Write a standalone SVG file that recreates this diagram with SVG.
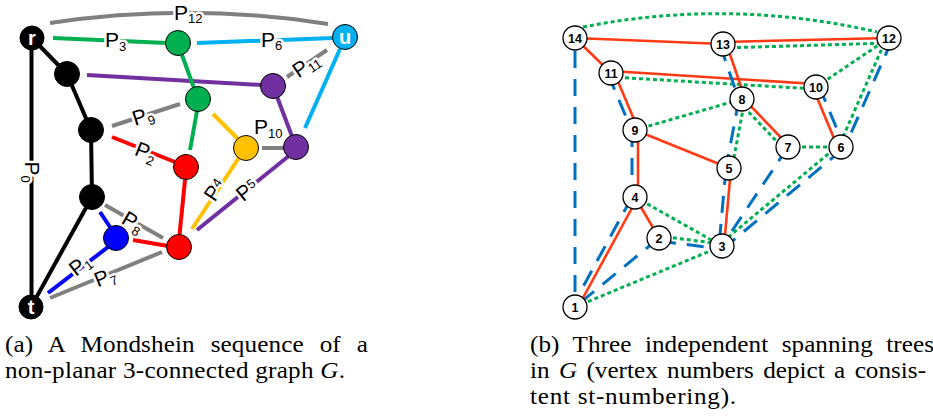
<svg xmlns="http://www.w3.org/2000/svg" width="933" height="419" viewBox="0 0 933 419">
<style>
.e{fill:none;stroke-width:4;stroke-linecap:butt}
.k{stroke:#000}.g{stroke:#00b050}.c{stroke:#00b0f0}.p{stroke:#7030a0}.r{stroke:#ff0000}.y{stroke:#ffc000}.b{stroke:#0000ff}.s{stroke:#808080}
.n{stroke:#000;stroke-width:1}
.lb{font-family:"Liberation Sans",Arial,sans-serif;font-size:21px;fill:#000;stroke:#fff;stroke-width:5;paint-order:stroke;stroke-linejoin:round}
.sb{font-size:13px}
.nt{font-family:"Liberation Sans",Arial,sans-serif;font-size:20px;font-weight:bold;fill:#fff;text-anchor:middle}
.rr{fill:none;stroke:#ff3a14;stroke-width:2.6}
.gg{fill:none;stroke:#00b050;stroke-width:3;stroke-dasharray:4 3}
.bb{fill:none;stroke:#0070c0;stroke-width:3;stroke-dasharray:17 11}
.wn{fill:#fff;stroke:#000;stroke-width:1.3}
.wt{font-family:"Liberation Sans",Arial,sans-serif;font-size:12.5px;font-weight:bold;fill:#000;text-anchor:middle}
.cap{font-family:"Liberation Serif","Times New Roman",serif;font-size:22.5px;fill:#000}
</style>
<g id="connectors-a">
<path class="e s" d="M50,23 Q189,2 328,24"/>
<line class="e k" x1="31.5" y1="38" x2="31.5" y2="307"/>
<line class="e k" x1="32" y1="38" x2="67" y2="74"/>
<line class="e k" x1="67" y1="74" x2="91" y2="130"/>
<line class="e k" x1="91" y1="130" x2="92" y2="197"/>
<line class="e k" x1="92" y1="197" x2="31" y2="307"/>
<line class="e g" x1="53" y1="38" x2="167" y2="43"/>
<line class="e c" x1="197" y1="43" x2="333" y2="38"/>
<line class="e p" x1="87" y1="75" x2="262" y2="85"/>
<line class="e g" x1="182" y1="55" x2="194" y2="88"/>
<line class="e s" x1="287" y1="77" x2="327" y2="50"/>
<line class="e c" x1="340" y1="49" x2="305" y2="128"/>
<line class="e s" x1="112" y1="126" x2="180" y2="104"/>
<line class="e r" x1="112" y1="137" x2="180" y2="164"/>
<line class="e g" x1="197" y1="111" x2="190" y2="150"/>
<line class="e y" x1="213" y1="114" x2="240" y2="141"/>
<line class="e s" x1="262" y1="148" x2="286" y2="148"/>
<line class="e p" x1="273" y1="86" x2="296" y2="147"/>
<line class="e y" x1="240" y1="156" x2="192" y2="229"/>
<line class="e p" x1="290" y1="155" x2="197" y2="230"/>
<line class="e r" x1="185" y1="180" x2="179" y2="240"/>
<line class="e s" x1="105" y1="205" x2="163" y2="238"/>
<line class="e b" x1="100" y1="212" x2="110" y2="227"/>
<line class="e r" x1="133" y1="240" x2="168" y2="246"/>
<line class="e b" x1="48" y1="293" x2="108" y2="247"/>
<line class="e s" x1="50" y1="298" x2="162" y2="252"/>
</g>
<g id="labels-a">
<text class="lb" x="174" y="20">P<tspan class="sb" dy="3">12</tspan></text>
<text class="lb" x="105" y="47">P<tspan class="sb" dy="4">3</tspan></text>
<text class="lb" x="261" y="47">P<tspan class="sb" dy="3">6</tspan></text>
<text class="lb" x="254" y="134">P<tspan class="sb" dy="4">10</tspan></text>
<text class="lb" transform="translate(306,65) rotate(-34)" x="0" y="7" text-anchor="middle">P<tspan class="sb" dy="3">11</tspan></text>
<text class="lb" transform="translate(143,116) rotate(-18)" x="0" y="7" text-anchor="middle">P<tspan class="sb" dy="4">9</tspan></text>
<text class="lb" transform="translate(146,152) rotate(22)" x="0" y="7" text-anchor="middle">P<tspan class="sb" dy="4">2</tspan></text>
<text class="lb" transform="translate(215,190) rotate(-56)" x="0" y="7" text-anchor="middle">P<tspan class="sb" dy="-5">4</tspan></text>
<text class="lb" transform="translate(247,190) rotate(-39)" x="0" y="7" text-anchor="middle">P<tspan class="sb" dy="-5">5</tspan></text>
<text class="lb" transform="translate(133,222) rotate(30)" x="0" y="7" text-anchor="middle">P<tspan class="sb" dy="4">8</tspan></text>
<text class="lb" transform="translate(80,265) rotate(-38)" x="0" y="7" text-anchor="middle">P<tspan class="sb" dy="3">1</tspan></text>
<text class="lb" transform="translate(105,277) rotate(-22)" x="0" y="7" text-anchor="middle">P<tspan class="sb" dy="4">7</tspan></text>
<text class="lb" transform="translate(31.5,172) rotate(90)" x="0" y="7" text-anchor="middle">P<tspan class="sb" dy="4">0</tspan></text>
</g>
<g id="node-r"><circle class="n" cx="32" cy="38" r="12" fill="#000"/><text class="nt" x="32" y="45">r</text></g>
<g id="node-g1"><circle class="n" cx="178" cy="43" r="12.5" fill="#00b050"/></g>
<g id="node-u"><circle class="n" cx="345" cy="37" r="12.5" fill="#00b0f0"/><text class="nt" x="345" y="44">u</text></g>
<g id="node-k2"><circle class="n" cx="67" cy="74" r="12.5" fill="#000"/></g>
<g id="node-p1"><circle class="n" cx="273" cy="86" r="12.5" fill="#7030a0"/></g>
<g id="node-g2"><circle class="n" cx="198" cy="99" r="12.5" fill="#00b050"/></g>
<g id="node-k3"><circle class="n" cx="91" cy="130" r="12.5" fill="#000"/></g>
<g id="node-y"><circle class="n" cx="246" cy="148" r="12.5" fill="#ffc000"/></g>
<g id="node-p2"><circle class="n" cx="296" cy="147" r="12.5" fill="#7030a0"/></g>
<g id="node-r1"><circle class="n" cx="186" cy="167" r="12.5" fill="#ff0000"/></g>
<g id="node-k4"><circle class="n" cx="92" cy="197" r="12.5" fill="#000"/></g>
<g id="node-b"><circle class="n" cx="116" cy="238" r="12.5" fill="#0000ff"/></g>
<g id="node-r2"><circle class="n" cx="179" cy="247" r="12.5" fill="#ff0000"/></g>
<g id="node-t"><circle class="n" cx="31" cy="307" r="12" fill="#000"/><text class="nt" x="31" y="314">t</text></g>

<g id="connectors-b">
<line class="bb" x1="575" y1="51" x2="575" y2="295"/>
<path class="gg" d="M583,27 Q730,-2 877,32"/>
<line class="rr" x1="575" y1="38" x2="723" y2="44"/>
<line class="rr" x1="723" y1="42" x2="889" y2="38"/>
<line class="gg" x1="723" y1="48" x2="889" y2="43"/>
<line class="rr" x1="575" y1="38" x2="611" y2="73"/>
<line class="rr" x1="611" y1="71" x2="816" y2="84"/>
<line class="gg" x1="611" y1="77" x2="816" y2="89"/>
<line class="rr" x1="614" y1="72" x2="638" y2="129"/>
<line class="bb" x1="608" y1="74" x2="632" y2="131"/>
<line class="rr" x1="726" y1="43" x2="745" y2="98"/>
<line class="bb" x1="720" y1="45" x2="739" y2="100"/>
<line class="gg" x1="816" y1="87" x2="889" y2="38"/>
<line class="gg" x1="635" y1="130" x2="742" y2="99"/>
<line class="gg" x1="745" y1="99" x2="732" y2="168"/>
<line class="bb" x1="739" y1="99" x2="726" y2="168"/>
<line class="rr" x1="743" y1="98" x2="789" y2="146"/>
<line class="gg" x1="739" y1="102" x2="785" y2="150"/>
<line class="rr" x1="813" y1="88" x2="838" y2="148"/>
<line class="bb" x1="819" y1="86" x2="844" y2="146"/>
<line class="gg" x1="887" y1="37" x2="839" y2="146"/>
<line class="bb" x1="892" y1="40" x2="844" y2="149"/>
<line class="gg" x1="788" y1="147" x2="841" y2="147"/>
<line class="rr" x1="635" y1="130" x2="729" y2="168"/>
<line class="rr" x1="638" y1="130" x2="638" y2="197"/>
<line class="bb" x1="632" y1="130" x2="632" y2="197"/>
<line class="bb" x1="788" y1="147" x2="722" y2="246"/>
<line class="gg" x1="839" y1="145" x2="720" y2="244"/>
<line class="bb" x1="843" y1="149" x2="724" y2="248"/>
<line class="rr" x1="731" y1="168" x2="724" y2="246"/>
<line class="bb" x1="726" y1="168" x2="719" y2="246"/>
<line class="gg" x1="635" y1="197" x2="722" y2="246"/>
<line class="rr" x1="635" y1="197" x2="659" y2="238"/>
<line class="gg" x1="659" y1="236" x2="722" y2="244"/>
<line class="bb" x1="659" y1="241" x2="722" y2="249"/>
<line class="bb" x1="659" y1="238" x2="575" y2="307"/>
<line class="gg" x1="575" y1="307" x2="722" y2="246"/>
<line class="rr" x1="638" y1="197" x2="578" y2="307"/>
<line class="bb" x1="632" y1="197" x2="572" y2="307"/>
</g>
<g id="v14"><circle class="wn" cx="575" cy="38" r="12"/><text class="wt" x="575" y="42.5">14</text></g>
<g id="v13"><circle class="wn" cx="723" cy="44" r="12"/><text class="wt" x="723" y="48.5">13</text></g>
<g id="v12"><circle class="wn" cx="889" cy="38" r="12"/><text class="wt" x="889" y="42.5">12</text></g>
<g id="v11"><circle class="wn" cx="611" cy="73" r="12"/><text class="wt" x="611" y="77.5">11</text></g>
<g id="v10"><circle class="wn" cx="816" cy="87" r="12"/><text class="wt" x="816" y="91.5">10</text></g>
<g id="v8"><circle class="wn" cx="742" cy="99" r="12"/><text class="wt" x="742" y="103.5">8</text></g>
<g id="v9"><circle class="wn" cx="635" cy="130" r="12"/><text class="wt" x="635" y="134.5">9</text></g>
<g id="v7"><circle class="wn" cx="788" cy="147" r="12"/><text class="wt" x="788" y="151.5">7</text></g>
<g id="v6"><circle class="wn" cx="841" cy="147" r="12"/><text class="wt" x="841" y="151.5">6</text></g>
<g id="v5"><circle class="wn" cx="729" cy="168" r="12"/><text class="wt" x="729" y="172.5">5</text></g>
<g id="v4"><circle class="wn" cx="635" cy="197" r="12"/><text class="wt" x="635" y="201.5">4</text></g>
<g id="v2"><circle class="wn" cx="659" cy="238" r="12"/><text class="wt" x="659" y="242.5">2</text></g>
<g id="v3"><circle class="wn" cx="722" cy="246" r="12"/><text class="wt" x="722" y="250.5">3</text></g>
<g id="v1"><circle class="wn" cx="575" cy="307" r="12"/><text class="wt" x="575" y="311.5">1</text></g>

<g id="captions">
<text class="cap" transform="translate(5,352) scale(1.12,1)" x="0" y="0" word-spacing="8.4" textLength="324" lengthAdjust="spacing">(a) A Mondshein sequence of a</text>
<text class="cap" transform="translate(5,378) scale(1.12,1)" x="0" y="0" textLength="303.6" lengthAdjust="spacing">non-planar 3-connected graph <tspan font-style="italic">G</tspan>.</text>
<text class="cap" transform="translate(530,352) scale(1.12,1)" x="0" y="0" word-spacing="6.5" textLength="360.7" lengthAdjust="spacing">(b) Three independent spanning trees</text>
<text class="cap" transform="translate(530,378) scale(1.12,1)" x="0" y="0" word-spacing="2.7" textLength="353.6" lengthAdjust="spacing">in <tspan font-style="italic">G</tspan> (vertex numbers depict a consis-</text>
<text class="cap" transform="translate(530,404) scale(1.12,1)" x="0" y="0" textLength="184" lengthAdjust="spacing">tent st-numbering).</text>
</g>
</svg>
